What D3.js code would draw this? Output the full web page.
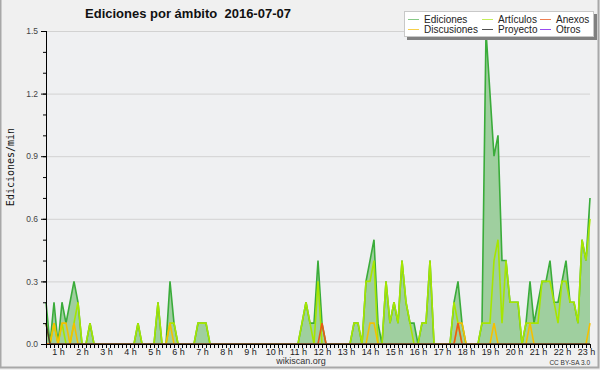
<!DOCTYPE html>
<html>
<head>
<meta charset="utf-8">
<script src="https://cdn.jsdelivr.net/npm/d3@7"></script>
<style>
body { margin: 0; background: #f0f0f0; }
svg { display: block; font-family: "Liberation Sans", Arial, sans-serif; }
</style>
</head>
<body>
<script>
//Data: one value every 10 minutes, first point at 0:30
var startMinute = 30;
var stepMinutes = 10;

var ediciones = [
  0.2,0,0.2,0,0.2,0.1,0.2,0.3,0.2,0,0,0.1,
  0,0,0,0,0,0,0,0,0,0,0,0.1,
  0,0,0,0,0.2,0,0,0.3,0.1,0,0,0,
  0,0,0.1,0.1,0.1,0,0,0,0,0,0,0,
  0,0,0,0,0,0,0,0,0,0,0,0,
  0,0,0,0,0.1,0.2,0.1,0.1,0.4,0.1,0,0,
  0,0,0,0,0,0.1,0.1,0,0.3,0.4,0.5,0.1,
  0,0.3,0.1,0.2,0.1,0.4,0.2,0.1,0.1,0,0.1,0.1,
  0.4,0,0,0,0,0,0.2,0.3,0.1,0,0,0,
  0,0.1,1.5,1.2,0.9,1.0,0.4,0.4,0.2,0.2,0.2,0,
  0.1,0.3,0.1,0.2,0.3,0.3,0.4,0.2,0.2,0.3,0.4,0.2,
  0.2,0.1,0.5,0.4,0.7
];
var articulos = [
  0.1,0,0.1,0,0.1,0,0,0.1,0.2,0,0,0.1,
  0,0,0,0,0,0,0,0,0,0,0,0.1,
  0,0,0,0,0.2,0,0,0.1,0.1,0,0,0,
  0,0,0.1,0.1,0.1,0,0,0,0,0,0,0,
  0,0,0,0,0,0,0,0,0,0,0,0,
  0,0,0,0,0.1,0.2,0.1,0,0.3,0,0,0,
  0,0,0,0,0,0.1,0.1,0,0.3,0.3,0.4,0,
  0,0.3,0.1,0.2,0.1,0.4,0.2,0.1,0,0,0.1,0.1,
  0.4,0,0,0,0,0,0.2,0.1,0,0,0,0,
  0,0.1,0.1,0.1,0.4,0.5,0.1,0.4,0.2,0.2,0.2,0,
  0.1,0.1,0.1,0.1,0.3,0.3,0.3,0.2,0.1,0.3,0.3,0.2,
  0.2,0.1,0.5,0.4,0.6
];
var anexos = [
  0,0,0,0,0,0,0,0,0,0,0,0,
  0,0,0,0,0,0,0,0,0,0,0,0,
  0,0,0,0,0,0,0,0,0,0,0,0,
  0,0,0,0,0,0,0,0,0,0,0,0,
  0,0,0,0,0,0,0,0,0,0,0,0,
  0,0,0,0,0,0,0,0,0,0.1,0,0,
  0,0,0,0,0,0,0,0,0,0,0,0,
  0,0,0,0,0,0,0,0,0,0,0,0,
  0,0,0,0,0,0,0,0.1,0,0,0,0,
  0,0,0,0,0,0,0,0,0,0,0,0,
  0,0,0,0,0,0,0,0,0,0,0,0,
  0,0,0,0,0
];
var discusiones = [
  0,0,0.1,0,0.1,0.1,0,0.1,0,0,0,0,
  0,0,0,0,0,0,0,0,0,0,0,0,
  0,0,0,0,0,0,0,0.1,0,0,0,0,
  0,0,0,0,0,0,0,0,0,0,0,0,
  0,0,0,0,0,0,0,0,0,0,0,0,
  0,0,0,0,0,0,0,0,0,0,0,0,
  0,0,0,0,0,0,0,0,0,0.1,0.1,0,
  0,0,0,0,0,0,0,0,0,0,0,0,
  0,0,0,0,0,0,0,0.1,0.1,0,0,0,
  0,0,0,0,0.1,0,0,0,0,0,0,0,
  0,0.1,0,0,0,0,0,0,0,0,0,0,
  0,0,0,0,0.1
];
var proyecto = [
  0.1,0,0,0,0,0,0,0,0,0,0,0,
  0,0,0,0,0,0,0,0,0,0,0,0,
  0,0,0,0,0,0,0,0,0,0,0,0,
  0,0,0,0,0,0,0,0,0,0,0,0,
  0,0,0,0,0,0,0,0,0,0,0,0,
  0,0,0,0,0,0,0,0,0,0,0,0,
  0,0,0,0,0,0,0,0,0,0,0,0,
  0,0,0,0,0,0,0,0,0,0,0,0,
  0,0,0,0,0,0,0,0,0,0,0,0,
  0,0,0,0,0,0,0,0,0,0,0,0,
  0,0,0,0,0,0,0,0,0,0,0,0,
  0,0,0,0,0
];
var otros = [
  0,0,0,0,0,0,0,0,0,0,0,0,
  0,0,0,0,0,0,0,0,0,0,0,0,
  0,0,0,0,0,0,0,0,0,0,0,0,
  0,0,0,0,0,0,0,0,0,0,0,0,
  0,0,0,0,0,0,0,0,0,0,0,0,
  0,0,0,0,0,0,0,0,0,0,0,0,
  0,0,0,0,0,0,0,0,0,0,0,0,
  0,0,0,0,0,0,0,0,0,0,0,0,
  0,0,0,0,0,0,0,0,0,0,0,0,
  0,0,0,0,0,0,0,0,0,0,0,0,
  0,0,0,0,0,0,0,0,0,0,0,0,
  0,0,0,0,0
];

var hourLabels = ["1 h","2 h","3 h","4 h","5 h","6 h","7 h","8 h","9 h","10 h","11 h","12 h",
                  "13 h","14 h","15 h","16 h","17 h","18 h","19 h","20 h","21 h","22 h","23 h"];
var hourValues = [1,2,3,4,5,6,7,8,9,10,11,12,13,14,15,16,17,18,19,20,21,22,23];
var yLabelTicks = [0, 0.3, 0.6, 0.9, 1.2, 1.5];
var yMinorTicks = [0,0.1,0.2,0.3,0.4,0.5,0.6,0.7,0.8,0.9,1.0,1.1,1.2,1.3,1.4,1.5];

var legendNames = ["Ediciones","Artículos","Anexos","Discusiones","Proyecto","Otros"];
var legendColors = ["#86c986","#c4ee5a","#ee7f52","#f6cf4a","#505050","#9a4cf0"];

//Width and height
var w = 600;
var h = 370;

var minutes = ediciones.map(function(d, i) { return startMinute + i * stepMinutes; });

var x = d3.scaleLinear()
          .domain([minutes[0], minutes[minutes.length - 1]])
          .range([46, 590]);
var y = d3.scaleLinear()
          .domain([0, 1.5])
          .range([344, 31]);

var svg = d3.select("body")
            .append("svg")
            .attr("width", w)
            .attr("height", h);

//Background and border
svg.append("rect")
   .attr("x", 0.5).attr("y", -1)
   .attr("width", w - 2).attr("height", h - 1.5)
   .attr("fill", "#f0f0f0")
   .attr("stroke", "#a8a8a8")
   .attr("stroke-width", 2);

svg.append("rect")
   .attr("x", 46).attr("y", 31)
   .attr("width", 544).attr("height", 313)
   .attr("fill", "#eff0f2");

//Grid lines
svg.append("g")
   .attr("transform", "translate(46,0)")
   .call(d3.axisLeft(y).tickValues(yLabelTicks.slice(1)).tickSize(-544).tickFormat(""))
   .call(function(g) {
     g.select(".domain").remove();
     g.selectAll("line").attr("stroke", "#d2d2d2");
   });

//Area for all edits
var area = d3.area()
             .x(function(d, i) { return x(minutes[i]); })
             .y0(y(0))
             .y1(function(d) { return y(d); });

svg.append("path")
   .datum(ediciones)
   .attr("d", area)
   .attr("fill", "#9fcf9f");

var line = d3.line()
             .x(function(d, i) { return x(minutes[i]); })
             .y(function(d) { return y(d); });

var series = [
  { values: ediciones, color: "#3aac3a" },
  { values: articulos, color: "#a6e600" },
  { values: discusiones, color: "#f5c000" },
  { values: anexos, color: "#ea5a16" },
  { values: proyecto, color: "#4a4030" },
  { values: otros, color: "#9a4cf0" }
];

svg.selectAll("path.serie")
   .data(series.filter(function(s) { return d3.max(s.values) > 0; }))
   .enter()
   .append("path")
   .attr("class", "serie")
   .attr("d", function(d) { return line(d.values); })
   .attr("fill", "none")
   .attr("stroke", function(d) { return d.color; })
   .attr("stroke-width", 1.6)
   .attr("stroke-linejoin", "miter");

//X axis: one tick per point, hour labels
svg.append("g")
   .attr("transform", "translate(0,344)")
   .call(d3.axisBottom(x).tickValues(minutes).tickSize(4).tickFormat(""))
   .call(function(g) {
     g.select(".domain").attr("stroke", "#000").attr("d", "M46,0.5H590");
     g.selectAll("line").attr("stroke", "#000");
   });

svg.append("g")
   .attr("transform", "translate(0,344)")
   .call(d3.axisBottom(x)
           .tickValues(hourValues.map(function(d) { return d * 60; }))
           .tickSize(0)
           .tickPadding(5)
           .tickFormat(function(d, i) { return hourLabels[i]; }))
   .call(function(g) {
     g.select(".domain").remove();
     g.selectAll("text")
      .attr("font-family", "Liberation Sans, sans-serif")
      .attr("font-size", "9px")
      .attr("fill", "#222");
   });

//Y axis
svg.append("g")
   .attr("transform", "translate(46,0)")
   .call(d3.axisLeft(y).tickValues(yMinorTicks).tickSize(3).tickFormat(""))
   .call(function(g) {
     g.select(".domain").attr("stroke", "#000").attr("d", "M0.5,31V344");
     g.selectAll("line").attr("stroke", "#000");
   });

svg.append("g")
   .attr("transform", "translate(46,0)")
   .call(d3.axisLeft(y).tickValues(yLabelTicks).tickSize(5).tickPadding(3).tickFormat(d3.format(".1f")))
   .call(function(g) {
     g.select(".domain").remove();
     g.selectAll("line").attr("stroke", "#000");
     g.selectAll("text")
      .attr("font-family", "Liberation Sans, sans-serif")
      .attr("font-size", "8.5px")
      .attr("fill", "#444");
   });

//Axis title
svg.append("text")
   .attr("transform", "translate(14,167) rotate(-90)")
   .attr("text-anchor", "middle")
   .attr("font-family", "DejaVu Sans Mono, monospace")
   .attr("font-size", "10px")
   .attr("fill", "#111")
   .text("Ediciones/min");

//Title
svg.append("text")
   .attr("x", 188).attr("y", 18)
   .attr("text-anchor", "middle")
   .attr("font-size", "13px")
   .attr("font-weight", "bold")
   .attr("fill", "#111")
   .style("white-space", "pre")
   .text("Ediciones por ámbito  2016-07-07");

//Footer
svg.append("text")
   .attr("x", 301).attr("y", 364)
   .attr("text-anchor", "middle")
   .attr("font-size", "9px")
   .attr("fill", "#333")
   .text("wikiscan.org");

svg.append("text")
   .attr("x", 590).attr("y", 365)
   .attr("text-anchor", "end")
   .attr("font-size", "6.5px")
   .attr("fill", "#333")
   .text("CC BY-SA 3.0");

//Legend
var legend = svg.append("g");
legend.append("rect")
      .attr("x", 407).attr("y", 14)
      .attr("width", 190).attr("height", 26)
      .attr("fill", "#808080");
legend.append("rect")
      .attr("x", 404.5).attr("y", 11.5)
      .attr("width", 189).attr("height", 25)
      .attr("fill", "#fff")
      .attr("stroke", "#c8c8c8");

var colX = [408, 482, 540];
var items = legend.selectAll("g.item")
                  .data(legendNames)
                  .enter()
                  .append("g")
                  .attr("class", "item")
                  .attr("transform", function(d, i) {
                    return "translate(" + colX[i % 3] + "," + (19 + Math.floor(i / 3) * 10) + ")";
                  });
items.append("line")
     .attr("x1", 0).attr("x2", 11)
     .attr("y1", 0.5).attr("y2", 0.5)
     .attr("stroke", function(d, i) { return legendColors[i]; })
     .attr("stroke-width", 1);
items.append("text")
     .attr("x", 16).attr("y", 4)
     .attr("font-size", "10px")
     .attr("fill", "#222")
     .text(function(d) { return d; });
</script>
</body>
</html>
